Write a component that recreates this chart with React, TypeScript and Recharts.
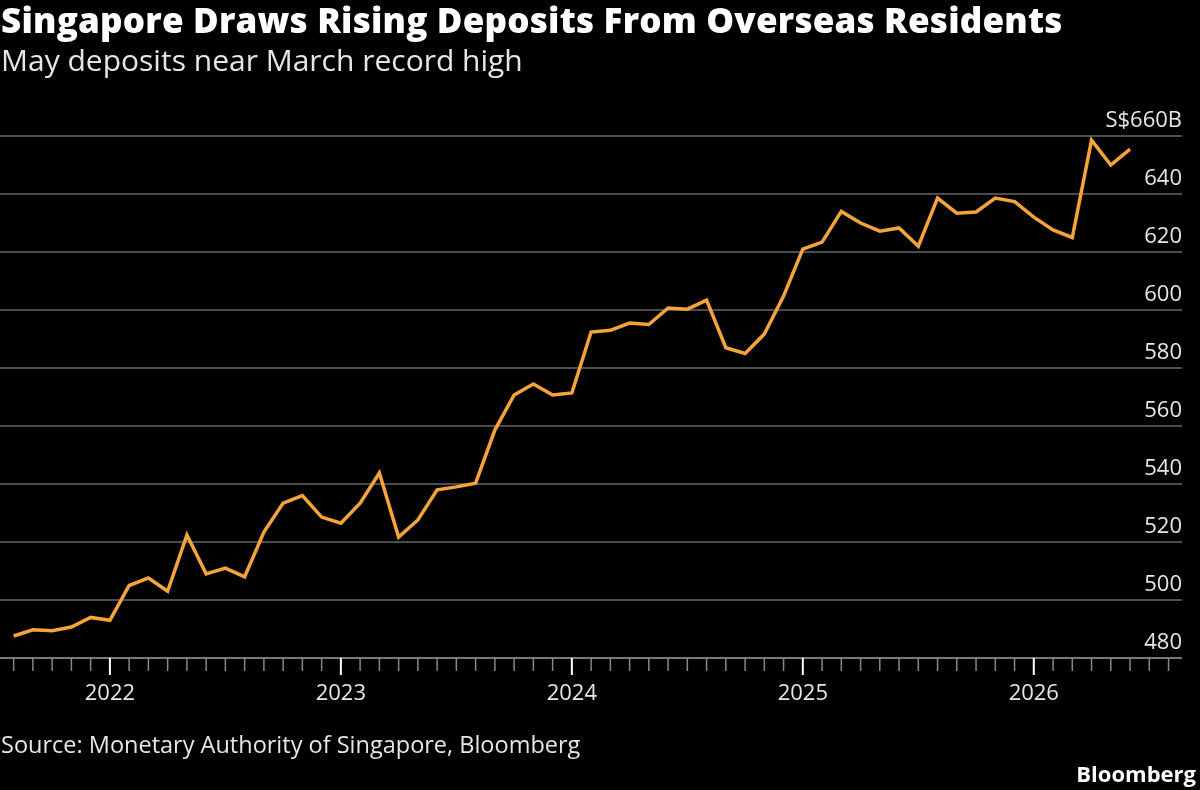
import React from 'react';
import { LineChart, Line, XAxis, YAxis, CartesianGrid } from 'recharts';

// Monthly, Aug 2021 .. Jun 2026 (S$ billions)
const months = [
  'Aug21', 'Sep21', 'Oct21', 'Nov21', 'Dec21',
  'Jan22', 'Feb22', 'Mar22', 'Apr22', 'May22', 'Jun22', 'Jul22', 'Aug22', 'Sep22', 'Oct22', 'Nov22', 'Dec22',
  'Jan23', 'Feb23', 'Mar23', 'Apr23', 'May23', 'Jun23', 'Jul23', 'Aug23', 'Sep23', 'Oct23', 'Nov23', 'Dec23',
  'Jan24', 'Feb24', 'Mar24', 'Apr24', 'May24', 'Jun24', 'Jul24', 'Aug24', 'Sep24', 'Oct24', 'Nov24', 'Dec24',
  'Jan25', 'Feb25', 'Mar25', 'Apr25', 'May25', 'Jun25', 'Jul25', 'Aug25', 'Sep25', 'Oct25', 'Nov25', 'Dec25',
  'Jan26', 'Feb26', 'Mar26', 'Apr26', 'May26', 'Jun26',
];
const deposits = [
  487.6, 489.7, 489.4, 490.7, 494.0,
  493.0, 505.0, 507.6, 503.0, 522.4, 509.0, 511.0, 508.0, 523.4, 533.4, 536.0, 528.6,
  526.5, 533.4, 543.8, 521.7, 527.6, 538.0, 539.0, 540.3, 558.6, 570.7, 574.5, 570.7,
  571.4, 592.4, 593.0, 595.5, 595.0, 600.7, 600.3, 603.4, 587.0, 585.0, 591.7, 604.8,
  621.0, 623.4, 634.0, 630.0, 627.2, 628.3, 622.0, 638.6, 633.4, 633.8, 638.6, 637.4,
  632.0, 627.6, 625.0, 658.6, 650.0, 655.5,
];
const yTicks = [480, 500, 520, 540, 560, 580, 600, 620, 640, 660];
const yearLabels: Record<number, string> = { 5: '2022', 17: '2023', 29: '2024', 41: '2025', 53: '2026' };
const monthTicks = Array.from({ length: 61 }, (_, i) => i);

const data = months.map((m, i) => ({ i, month: m, value: deposits[i] }));

const font = '"Open Sans", "Noto Sans", sans-serif';

const YTick = (props: any) => {
  const { y, payload } = props;
  const label = payload.value === 660 ? 'S$660B' : String(payload.value);
  return (
    <text x={1182} y={y - 9} textAnchor="end" fill="#e6e6e6" fontSize={22} fontFamily={font}>
      {label}
    </text>
  );
};

const XTick = (props: any) => {
  const { x, y, payload } = props;
  const label = yearLabels[payload.value];
  return (
    <g>
      <line x1={x} x2={x} y1={y - 8} y2={y + (label ? 9 : 5)} stroke={label ? '#ffffff' : '#888'} strokeWidth={label ? 2 : 1.5} />
      {label && (
        <text x={x} y={y + 34} textAnchor="middle" fill="#e6e6e6" fontSize={22} fontFamily={font}>
          {label}
        </text>
      )}
    </g>
  );
};

export default function App() {
  return (
    <div style={{ position: 'fixed', left: 0, top: 0, width: 1200, height: 790, background: '#000', fontFamily: font, color: '#fff' }}>
      <div style={{ position: 'absolute', left: 1, top: 2, fontSize: 35, lineHeight: '36px', fontWeight: 800, letterSpacing: 0.2, whiteSpace: 'nowrap' }}>
        Singapore Draws Rising Deposits From Overseas Residents
      </div>
      <div style={{ position: 'absolute', left: 1, top: 42, fontSize: 30, lineHeight: '36px', color: '#e6e6e6', whiteSpace: 'nowrap' }}>
        May deposits near March record high
      </div>
      <LineChart width={1200} height={790} data={data} margin={{ top: 136, right: 0, bottom: 0, left: 0 }}>
        <CartesianGrid vertical={false} stroke="#666" strokeWidth={1.5} />
        <XAxis
          dataKey="i"
          type="number"
          domain={[-0.71, 60.7]}
          ticks={monthTicks}
          interval={0}
          tick={<XTick />}
          tickLine={false}
          axisLine={{ stroke: '#888', strokeWidth: 1.5 }}
          height={132}
        />
        <YAxis
          orientation="right"
          type="number"
          domain={[480, 660]}
          ticks={yTicks}
          width={18}
          tick={<YTick />}
          tickLine={false}
          axisLine={false}
        />
        <Line type="linear" dataKey="value" stroke="#f5a33b" strokeWidth={3.5} dot={false} isAnimationActive={false} />
      </LineChart>
      <div style={{ position: 'absolute', left: 1, top: 728, fontSize: 23.5, color: '#e6e6e6', whiteSpace: 'nowrap' }}>
        Source: Monetary Authority of Singapore, Bloomberg
      </div>
      <div style={{ position: 'absolute', right: 4, top: 758, fontSize: 22, fontWeight: 700 }}>Bloomberg</div>
    </div>
  );
}
